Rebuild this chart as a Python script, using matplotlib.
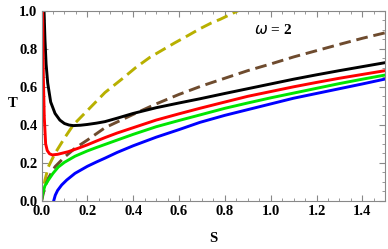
import numpy as np
import matplotlib
matplotlib.use("Agg")
import matplotlib.pyplot as plt
from matplotlib.ticker import MultipleLocator

# curves
s_black = [0.011, 0.015, 0.02, 0.027, 0.04, 0.059, 0.08, 0.10, 0.12, 0.139, 0.17, 0.2, 0.24, 0.277, 0.33, 0.4, 0.5, 0.6, 0.691, 0.8, 0.9, 1.0, 1.1, 1.2, 1.3, 1.4, 1.5]
t_black = [1.0, 0.85, 0.72, 0.62, 0.52, 0.46, 0.425, 0.407, 0.399, 0.396, 0.398, 0.402, 0.409, 0.417, 0.435, 0.46, 0.49, 0.515, 0.537, 0.565, 0.59, 0.615, 0.64, 0.663, 0.685, 0.706, 0.727]

s_red = [0.005, 0.008, 0.012, 0.018, 0.025, 0.035, 0.047, 0.07, 0.117, 0.16, 0.2, 0.24, 0.277, 0.33, 0.4, 0.5, 0.6, 0.691, 0.8, 0.9, 1.0, 1.1, 1.2, 1.3, 1.4, 1.5]
t_red = [1.0, 0.65, 0.44, 0.30, 0.265, 0.248, 0.242, 0.245, 0.259, 0.277, 0.295, 0.315, 0.333, 0.357, 0.385, 0.425, 0.458, 0.487, 0.52, 0.55, 0.575, 0.6, 0.623, 0.645, 0.665, 0.685]

s_green = [0.0, 0.005, 0.015, 0.03, 0.05, 0.073, 0.1, 0.146, 0.2, 0.24, 0.277, 0.33, 0.4, 0.5, 0.6, 0.691, 0.8, 0.9, 1.0, 1.1, 1.2, 1.3, 1.4, 1.5]
t_green = [0.0, 0.04, 0.08, 0.11, 0.145, 0.178, 0.203, 0.235, 0.263, 0.281, 0.297, 0.32, 0.35, 0.39, 0.423, 0.452, 0.487, 0.515, 0.542, 0.567, 0.592, 0.617, 0.64, 0.662]

s_blue = [0.053, 0.06, 0.07, 0.088, 0.11, 0.146, 0.2, 0.24, 0.277, 0.33, 0.4, 0.5, 0.6, 0.691, 0.8, 0.9, 1.0, 1.1, 1.2, 1.3, 1.4, 1.5]
t_blue = [0.0, 0.03, 0.055, 0.084, 0.11, 0.145, 0.182, 0.205, 0.225, 0.255, 0.29, 0.335, 0.375, 0.413, 0.45, 0.48, 0.51, 0.54, 0.565, 0.59, 0.615, 0.641]

s_brown = [0.0, 0.015, 0.03, 0.059, 0.1, 0.146, 0.2, 0.277, 0.33, 0.4, 0.5, 0.6, 0.7, 0.8, 0.9, 1.0, 1.1, 1.2, 1.3, 1.4, 1.5]
t_brown = [0.0, 0.075, 0.12, 0.18, 0.23, 0.277, 0.32, 0.385, 0.415, 0.455, 0.51, 0.56, 0.605, 0.645, 0.685, 0.72, 0.757, 0.79, 0.823, 0.855, 0.884]

s_yellow = [0.0, 0.015, 0.03, 0.059, 0.1, 0.139, 0.2, 0.277, 0.35, 0.41, 0.473, 0.53, 0.58, 0.64, 0.691, 0.74, 0.78, 0.82, 0.858]
t_yellow = [0.0, 0.11, 0.18, 0.25, 0.33, 0.40, 0.475, 0.57, 0.64, 0.70, 0.755, 0.795, 0.83, 0.87, 0.905, 0.935, 0.955, 0.978, 1.0]

plt.rcParams['font.family'] = ['Liberation Serif', 'DejaVu Serif']

fig = plt.figure(figsize=(3.88, 2.49), dpi=100)
ax = fig.add_axes([0.107, 0.193, 0.886, 0.764])

lw = 2.1
ax.plot(s_yellow, t_yellow, color='#b8b000', lw=lw, dashes=(4, 2))
ax.plot(s_brown, t_brown, color='#6e4b2e', lw=lw, dashes=(4, 2))
ax.plot(s_black, t_black, color='black', lw=lw)
ax.plot(s_red, t_red, color='#ff0000', lw=lw)
ax.plot(s_green, t_green, color='#00e600', lw=lw)
ax.plot(s_blue, t_blue, color='#0000ff', lw=lw)

ax.set_xlim(0, 1.5)
ax.set_ylim(0, 1.0)
ax.xaxis.set_major_locator(MultipleLocator(0.2))
ax.xaxis.set_minor_locator(MultipleLocator(0.05))
ax.yaxis.set_major_locator(MultipleLocator(0.2))
ax.yaxis.set_minor_locator(MultipleLocator(0.05))
ax.xaxis.set_major_formatter(plt.FormatStrFormatter('%.1f'))
ax.yaxis.set_major_formatter(plt.FormatStrFormatter('%.1f'))
ax.tick_params(which='both', direction='in', top=True, right=True, color='#888888')
ax.tick_params(which='major', length=4, width=0.8, labelsize=10.5, pad=3)
ax.tick_params(which='minor', length=2, width=0.6)
for lab in ax.get_xticklabels() + ax.get_yticklabels():
    lab.set_fontweight('bold')
for sp in ax.spines.values():
    sp.set_color('#888888')
    sp.set_linewidth(0.8)

ax.set_xlabel('S', fontsize=10.5, fontweight='bold', labelpad=10)
ax.set_ylabel('T', fontsize=10.5, fontweight='bold', rotation=0)
ax.yaxis.set_label_coords(-0.085, 0.48)

ax.text(1.01, 0.9, r'$\omega$ = 2', fontsize=11, fontweight='bold', ha='center', va='center')

fig.savefig('out.png', dpi=100)
